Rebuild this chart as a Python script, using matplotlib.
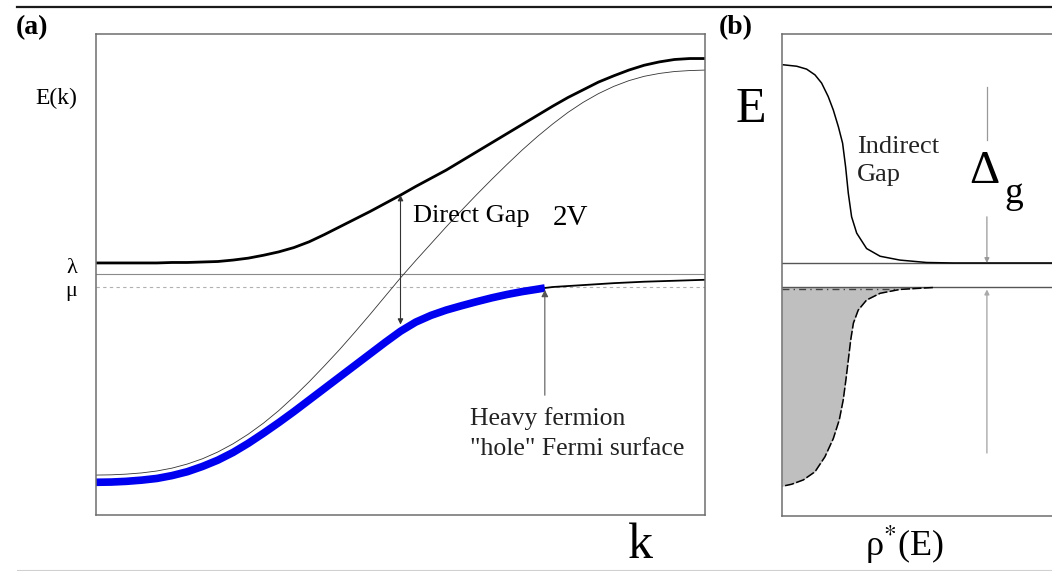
import matplotlib
matplotlib.use("Agg")
import matplotlib.pyplot as plt
import numpy as np

plt.rcParams['font.family'] = ['Liberation Serif', 'DejaVu Serif']
plt.rcParams['mathtext.fontset'] = 'stix'

W, H = 1052, 571

# ---------------- data (panel a: k and E in 0..100 units) ----------------
k_grid = [0, 2.5, 5, 7.5, 10, 12.5, 15, 17.5, 20, 22.5, 25, 27.5, 30, 32.5, 35,
          37.5, 40, 42.5, 45, 47.5, 50, 52.5, 55, 57.5, 60, 62.5, 65, 67.5, 70,
          72.5, 75, 77.5, 80, 82.5, 85, 87.5, 90, 92.5, 95, 97.5, 100]
E_upper = [52.4, 52.4, 52.4, 52.4, 52.4, 52.5, 52.5, 52.6, 52.7, 53.0, 53.4,
           54.0, 54.7, 55.6, 56.8, 58.3, 59.9, 61.5, 63.1, 64.8, 66.5, 68.3,
           70.0, 71.7, 73.6, 75.5, 77.4, 79.3, 81.2, 83.1, 85.0, 86.8, 88.4,
           90.0, 91.3, 92.5, 93.5, 94.2, 94.7, 94.9, 94.9]
E_bare = [8.3, 8.35, 8.5, 8.75, 9.15, 9.75, 10.6, 11.7, 13.1, 14.8, 16.8, 19.1,
          21.7, 24.6, 27.7, 31.0, 34.4, 38.0, 41.7, 45.5, 49.3, 52.9, 56.4,
          59.9, 63.3, 66.6, 69.8, 72.9, 75.9, 78.7, 81.3, 83.7, 85.8, 87.6,
          89.1, 90.3, 91.2, 91.8, 92.2, 92.4, 92.5]
k_occ = [0, 2.5, 5, 7.5, 10, 12.5, 15, 17.5, 20, 22.5, 25, 27.5, 30, 32.5, 35,
         37.5, 40, 42.5, 45, 47.5, 50, 52.5, 55, 57.5, 60, 62.5, 65, 67.5, 70,
         72.5, 73.7]
E_occ = [6.8, 6.85, 7.0, 7.25, 7.6, 8.2, 9.0, 10.1, 11.4, 13.0, 14.9, 17.0,
         19.2, 21.5, 23.9, 26.3, 28.7, 31.1, 33.5, 35.9, 38.2, 40.1, 41.5,
         42.6, 43.5, 44.35, 45.15, 45.85, 46.45, 46.95, 47.2]
k_empty = [73.7, 75, 80, 85, 90, 95, 100]
E_empty = [47.2, 47.4, 47.8, 48.2, 48.5, 48.7, 48.9]
E_lambda = 50.1
E_mu = 47.4
k_gap = 50
E_gap_hi = 66.5
E_gap_lo = 39.6
k_fermi = 73.7

# ---------------- data (panel b: density of states) ----------------
rho_up = [0.4, 4.9, 8.2, 11.0, 13.2, 15.4, 17.1, 18.8, 20.2, 21.2, 22.1, 23.2,
          24.9, 28.2, 32.7, 39.3, 48.2, 57.0, 106]
E_up = [93.6, 93.3, 92.7, 91.5, 89.8, 87.0, 84.2, 80.7, 77.3, 72.4, 66.9, 62.0,
        58.6, 55.4, 53.8, 53.0, 52.5, 52.4, 52.4]
rho_low = [50.3, 39.3, 32.7, 28.2, 25.4, 23.8, 22.9, 22.1, 21.3, 20.4, 19.1,
           17.1, 14.3, 11.0, 7.1, 3.2, 0.2]
E_low = [47.3, 46.9, 46.1, 44.7, 42.6, 39.9, 36.4, 32.2, 28.1, 23.9, 19.8,
         15.9, 12.1, 9.0, 7.3, 6.4, 6.0]
E_gap_top = 52.4
E_gap_bot = 47.5
rho_arrow = 68.3

fig = plt.figure(figsize=(W / 100, H / 100), dpi=100)


def fx(px):
    return px / W


def fy(py):
    return 1 - py / H


spine_col = '#6e6e6e'

ax = fig.add_axes([fx(96), fy(515), (705 - 96) / W, (515 - 34) / H])
ax.set_xlim(0, 100)
ax.set_ylim(0, 100)
ax.set_xticks([])
ax.set_yticks([])
for s in ax.spines.values():
    s.set_color(spine_col)
    s.set_linewidth(1.1)

ax.axhline(E_lambda, color='#8a8a8a', lw=0.8)
ax.axhline(E_mu, color='#b0b0b0', lw=0.8, dashes=(3, 3))
ax.plot(k_grid, E_bare, color='#333333', lw=0.6)
ax.plot(k_grid, E_upper, color='black', lw=2.0)
ax.plot(k_empty, E_empty, color='black', lw=1.3)
ax.plot(k_occ, E_occ, color='#0000f0', lw=5.5, solid_capstyle='butt')

# direct gap double arrow
ax.annotate('', xy=(k_gap, E_gap_hi), xytext=(k_gap, E_gap_lo),
            arrowprops=dict(arrowstyle='<|-|>', color='#333333', lw=0.8,
                            mutation_scale=8, shrinkA=0, shrinkB=0))
# Fermi surface arrow
ax.annotate('', xy=(k_fermi, E_mu - 0.6), xytext=(k_fermi, 24.9),
            arrowprops=dict(arrowstyle='-|>', color='#555555', lw=0.8,
                            mutation_scale=10, shrinkA=0, shrinkB=0))

# panel b
axb = fig.add_axes([fx(782), fy(516), (1100 - 782) / W, (516 - 34) / H])
axb.set_xlim(0, 106)
axb.set_ylim(-0.2, 100)
axb.set_xticks([])
axb.set_yticks([])
for s in axb.spines.values():
    s.set_color(spine_col)
    s.set_linewidth(1.1)

axb.fill_betweenx(E_low, 0, rho_low, color='#bfbfbf', lw=0)
axb.axhline(E_gap_top, color='#555555', lw=1.0)
axb.axhline(E_gap_bot, color='#555555', lw=1.0)
axb.plot([0, 38], [E_mu - 0.4, E_mu - 0.4], color='#444444', lw=1.0, dashes=(5, 3, 1, 3))
axb.plot(rho_up, E_up, color='black', lw=1.1)
axb.plot(rho_low, E_low, color='black', lw=1.1, dashes=(6, 1.5))

axb.plot([rho_arrow, rho_arrow], [89, 78], color='#999999', lw=0.9)
axb.annotate('', xy=(rho_arrow, E_gap_top), xytext=(rho_arrow, 62),
             arrowprops=dict(arrowstyle='-|>', color='#999999', lw=0.9,
                             mutation_scale=7, shrinkA=0, shrinkB=0))
axb.annotate('', xy=(rho_arrow, E_gap_bot - 0.6), xytext=(rho_arrow, 12.9),
             arrowprops=dict(arrowstyle='-|>', color='#aaaaaa', lw=1.0,
                             mutation_scale=7, shrinkA=0, shrinkB=0))

# decorative frame lines
fig.add_artist(plt.Line2D([fx(17), 1.0], [fy(7), fy(7)], color='#1a1a1a', lw=1.6))
fig.add_artist(plt.Line2D([fx(17), 1.0], [fy(570), fy(570)], color='#d0d0d0', lw=0.8))


def txt(px, py, s, size, **kw):
    fig.text(fx(px), fy(py), s, fontsize=size, va='baseline', **kw)


txt(16, 34, '(a)', 20, fontweight='bold')
txt(719, 34, '(b)', 20, fontweight='bold')
txt(35, 104, 'E(k)', 17)
txt(66, 273, 'λ', 16)
txt(65, 296, 'μ', 16)
txt(413, 222, 'Direct Gap', 19)
txt(553, 225, '2V', 21)
txt(470, 425, 'Heavy fermion', 18.5, color='#222222')
txt(470, 455, '"hole" Fermi surface', 18.5, color='#222222')
txt(640, 558, 'k', 36, ha='center')
txt(736, 122, 'E', 36)
txt(857, 153, 'Indirect', 19, color='#222222')
txt(857, 181, 'Gap', 19, color='#222222')
txt(969, 183, 'Δ', 34)
txt(1004, 203, 'g', 27)
txt(905, 556, r'ρ$^{*}$(E)', 26, ha='center')

fig.savefig('out.png', dpi=100)
